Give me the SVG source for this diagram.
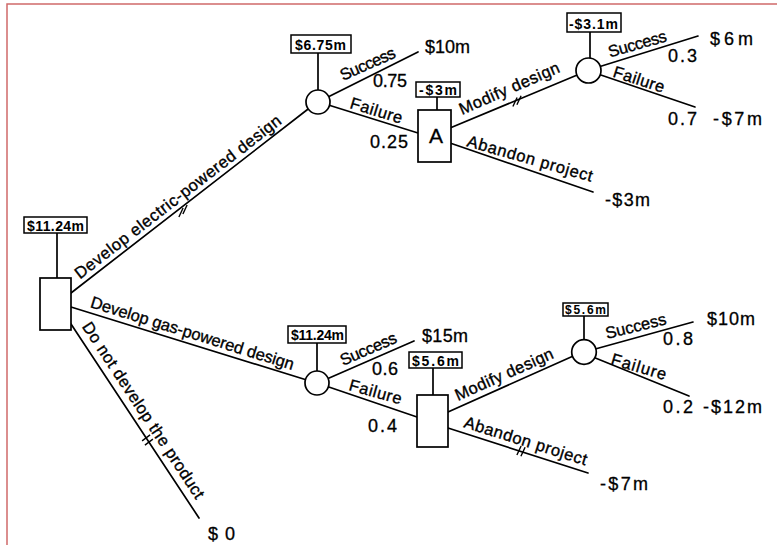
<svg xmlns="http://www.w3.org/2000/svg" width="777" height="545" viewBox="0 0 777 545">
<style>
.ln{stroke:#000;stroke-width:1.7;fill:none;stroke-linecap:round}
.tk{stroke:#000;stroke-width:1.4;fill:none}
.nd{fill:#fff;stroke:#000;stroke-width:1.7}
.vb{fill:#fff;stroke:#000;stroke-width:1.5}
.lb{font-family:"Liberation Sans",Arial,sans-serif;font-size:16.5px;fill:#000;stroke:#000;stroke-width:0.35}
.nm{font-family:"Liberation Sans",Arial,sans-serif;font-size:18px;fill:#000;stroke:#000;stroke-width:0.3}
.vt{font-family:"Liberation Sans",Arial,sans-serif;font-size:14px;font-weight:bold;fill:#000}
.fr{stroke:#d06a6a;stroke-width:1.5;fill:none}
</style>
<rect width="777" height="545" fill="#fff"/>
<path class="fr" d="M7,545 V4 H777"/>
<g id="connectors">
<line class="ln" x1="57" y1="233" x2="57" y2="278"/>
<line class="ln" x1="71" y1="293" x2="312" y2="106"/>
<line class="ln" x1="71" y1="307" x2="310" y2="381"/>
<line class="ln" x1="71" y1="324" x2="199" y2="518"/>
<line class="ln" x1="318" y1="53" x2="318" y2="92"/>
<line class="ln" x1="322" y1="100" x2="418" y2="52"/>
<line class="ln" x1="322" y1="103" x2="418" y2="133"/>
<line class="ln" x1="437" y1="97" x2="437" y2="110"/>
<line class="ln" x1="450" y1="128" x2="582" y2="73"/>
<line class="ln" x1="450" y1="143" x2="593" y2="192"/>
<line class="ln" x1="590" y1="32" x2="590" y2="60"/>
<line class="ln" x1="592" y1="69" x2="698" y2="36"/>
<line class="ln" x1="592" y1="72" x2="695" y2="107"/>
<line class="ln" x1="317" y1="343" x2="317" y2="373"/>
<line class="ln" x1="320" y1="382" x2="414" y2="341"/>
<line class="ln" x1="320" y1="384" x2="417" y2="417"/>
<line class="ln" x1="433" y1="368" x2="433" y2="395"/>
<line class="ln" x1="448" y1="412" x2="580" y2="353"/>
<line class="ln" x1="448" y1="428" x2="588" y2="473"/>
<line class="ln" x1="584" y1="316" x2="584" y2="341"/>
<line class="ln" x1="588" y1="351" x2="693" y2="322"/>
<line class="ln" x1="588" y1="355" x2="689" y2="396"/>
<path class="tk" d="M178.9,217 L183.1,208 M182.9,214 L187.1,205"/>
<path class="tk" d="M512.9,106.5 L517.1,97.5 M516.9,104.8 L521.1,95.8"/>
<path class="tk" d="M516.9,455 L521.1,446 M520.9,456.3 L525.1,447.3"/>
<path class="tk" d="M142.1,440.9 L150.1,434.9 M144.9,445.1 L152.9,439.1"/>
</g>
<g id="labels">
<text class="lb" transform="translate(80,279.5) rotate(-37.7)" textLength="256" lengthAdjust="spacing">Develop electric-powered design</text>
<text class="lb" transform="translate(89.5,307) rotate(17.3)" textLength="212" lengthAdjust="spacing">Develop gas-powered design</text>
<text class="lb" transform="translate(81.5,326.5) rotate(56.6)" textLength="208" lengthAdjust="spacing">Do not develop the product</text>
<text class="lb" transform="translate(343,81) rotate(-24)" textLength="59" lengthAdjust="spacing">Success</text>
<text class="lb" transform="translate(349,108) rotate(17)" textLength="54" lengthAdjust="spacing">Failure</text>
<text class="lb" transform="translate(462,115) rotate(-23.6)" textLength="108" lengthAdjust="spacing">Modify design</text>
<text class="lb" transform="translate(466,146) rotate(16)" textLength="130" lengthAdjust="spacing">Abandon project</text>
<text class="lb" transform="translate(610,57.5) rotate(-16)" textLength="60" lengthAdjust="spacing">Success</text>
<text class="lb" transform="translate(612,76.5) rotate(18)" textLength="53" lengthAdjust="spacing">Failure</text>
<text class="lb" transform="translate(343,366) rotate(-23.5)" textLength="60" lengthAdjust="spacing">Success</text>
<text class="lb" transform="translate(348,390) rotate(15.5)" textLength="54" lengthAdjust="spacing">Failure</text>
<text class="lb" transform="translate(458,401) rotate(-24.1)" textLength="106" lengthAdjust="spacing">Modify design</text>
<text class="lb" transform="translate(463,427) rotate(17.5)" textLength="128" lengthAdjust="spacing">Abandon project</text>
<text class="lb" transform="translate(607,339) rotate(-14)" textLength="62" lengthAdjust="spacing">Success</text>
<text class="lb" transform="translate(610,364) rotate(16.5)" textLength="57" lengthAdjust="spacing">Failure</text>
<text class="nm" x="425" y="53" textLength="45" lengthAdjust="spacing">$10m</text>
<text class="nm" x="373" y="87" textLength="34" lengthAdjust="spacing">0.75</text>
<text class="nm" x="370" y="148" textLength="38" lengthAdjust="spacing">0.25</text>
<text class="nm" x="710" y="45" textLength="43" lengthAdjust="spacing">$6m</text>
<text class="nm" x="668" y="62" textLength="29" lengthAdjust="spacing">0.3</text>
<text class="nm" x="668" y="125" textLength="29" lengthAdjust="spacing">0.7</text>
<text class="nm" x="713" y="125" textLength="49" lengthAdjust="spacing">-$7m</text>
<text class="nm" x="605" y="206" textLength="45" lengthAdjust="spacing">-$3m</text>
<text class="nm" x="422" y="342" textLength="46" lengthAdjust="spacing">$15m</text>
<text class="nm" x="372" y="375" textLength="26" lengthAdjust="spacing">0.6</text>
<text class="nm" x="368" y="432" textLength="29" lengthAdjust="spacing">0.4</text>
<text class="nm" x="707" y="325" textLength="48" lengthAdjust="spacing">$10m</text>
<text class="nm" x="663" y="345" textLength="30" lengthAdjust="spacing">0.8</text>
<text class="nm" x="663" y="413" textLength="30" lengthAdjust="spacing">0.2</text>
<text class="nm" x="703" y="413" textLength="59" lengthAdjust="spacing">-$12m</text>
<text class="nm" x="600" y="490" textLength="48" lengthAdjust="spacing">-$7m</text>
<text class="nm" x="208" y="540" textLength="27" lengthAdjust="spacing">$0</text>
</g>
<g id="n-root">
<rect class="nd" x="40" y="278" width="31" height="52"/>
<rect class="vb" x="24" y="217" width="63" height="16"/>
<text class="vt" x="27" y="231" textLength="57" lengthAdjust="spacing">$11.24m</text>
</g>
<g id="n-elec">
<circle class="nd" cx="318" cy="102" r="12"/>
<rect class="vb" x="291" y="35" width="60" height="18"/>
<text class="vt" x="295" y="50" textLength="51" lengthAdjust="spacing">$6.75m</text>
</g>
<g id="n-A">
<rect class="nd" x="418" y="110" width="33" height="52"/>
<text class="nm" x="436" y="143" text-anchor="middle" style="font-size:21px">A</text>
<rect class="vb" x="416" y="82" width="44" height="15"/>
<text class="vt" x="419" y="95" textLength="38" lengthAdjust="spacing">-$3m</text>
</g>
<g id="n-modA">
<circle class="nd" cx="588.5" cy="70.5" r="12.5"/>
<rect class="vb" x="567" y="13" width="54" height="19"/>
<text class="vt" x="569" y="28.5" textLength="49" lengthAdjust="spacing">-$3.1m</text>
</g>
<g id="n-gas">
<circle class="nd" cx="317" cy="383" r="12"/>
<rect class="vb" x="288" y="326" width="58" height="17"/>
<text class="vt" x="291" y="340" textLength="53" lengthAdjust="spacing">$11.24m</text>
</g>
<g id="n-B">
<rect class="nd" x="417" y="395" width="31" height="52"/>
<rect class="vb" x="409" y="352" width="53" height="16"/>
<text class="vt" x="412" y="366" textLength="47" lengthAdjust="spacing">$5.6m</text>
</g>
<g id="n-modB">
<circle class="nd" cx="584" cy="352" r="12.3"/>
<rect class="vb" x="563" y="303" width="45" height="13"/>
<text class="vt" x="565" y="314" style="font-size:12px" textLength="41" lengthAdjust="spacing">$5.6m</text>
</g>
</svg>
